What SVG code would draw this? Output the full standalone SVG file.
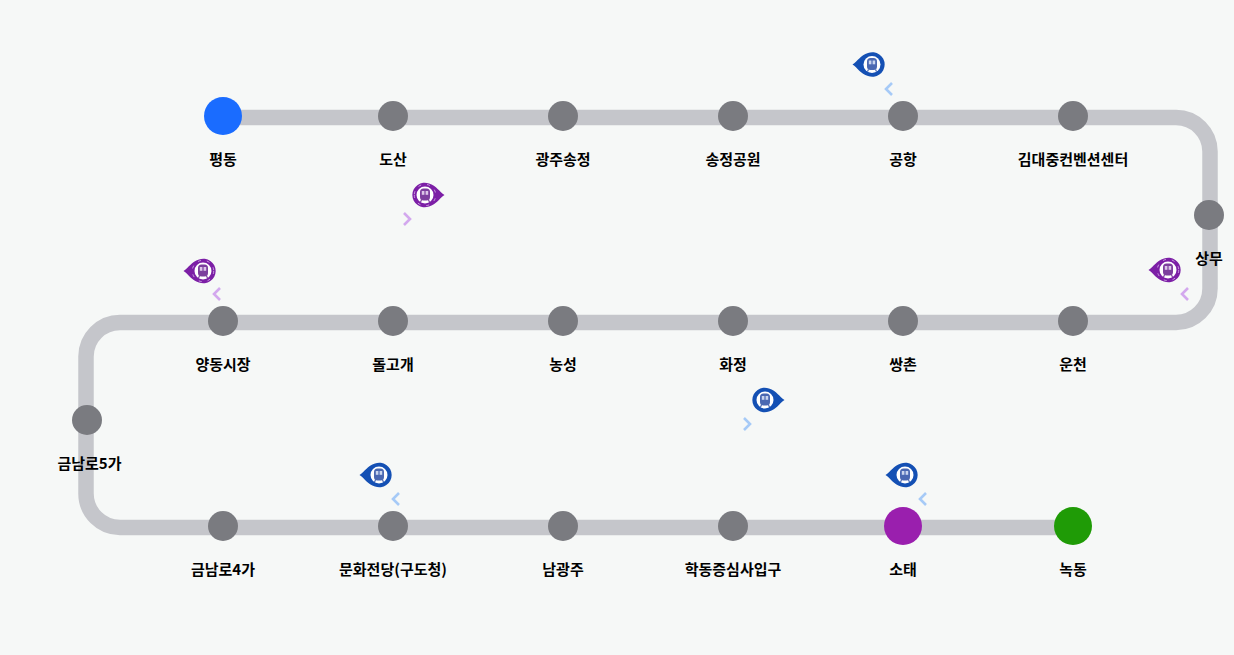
<svg xmlns="http://www.w3.org/2000/svg" width="1234" height="655" viewBox="0 0 1234 655">
<style>
.bg{fill:#f6f8f7}
.line{fill:none;stroke:#c5c6cb;stroke-width:15.5}
.st{fill:#7a7b80}
.t{font-family:"Noto Sans CJK KR","Noto Sans",sans-serif;font-size:15px;font-weight:700;fill:#000;text-anchor:middle}
.chB{fill:none;stroke:#a6caf7;stroke-width:2.6}
.chP{fill:none;stroke:#d3a8ee;stroke-width:2.6}
</style>
<defs>
<g id="trainB">
<path d="M-20.500 0C-15.500-3-12.500-9.500-5-11.500A12.300 12.300 0 1 1-5 11.500C-12.500 9.500-15.500 3-20.500 0Z" fill="#1450b4"/>
<circle cx="-1" cy="0" r="8.500" fill="#fff"/>
<rect x="-6" y="-6.500" width="10" height="12" rx="3.500" fill="#4a68b2"/>
<rect x="-4.200" y="-4" width="2.600" height="3.800" fill="#c9d5ee"/>
<rect x="-0.400" y="-4" width="2.600" height="3.800" fill="#c9d5ee"/>
<path d="M-4.500 5L-5.500 7M2.500 5L3.500 7" stroke="#4a68b2" stroke-width="1.200"/>
</g>
<g id="trainP">
<path d="M-20.500 0C-15.500-3-12.500-9.500-5-11.500A12.300 12.300 0 1 1-5 11.500C-12.500 9.500-15.500 3-20.500 0Z" fill="#7c1fa6"/>
<circle cx="-1" cy="0" r="10.700" fill="none" stroke="#d9b8ea" stroke-width="0.800" stroke-dasharray="3 6"/>
<circle cx="-1" cy="0" r="8.500" fill="#fff"/>
<rect x="-6" y="-6.500" width="10" height="12" rx="3.500" fill="#7d3f9e"/>
<rect x="-4.200" y="-4" width="2.600" height="3.800" fill="#dcc6e8"/>
<rect x="-0.400" y="-4" width="2.600" height="3.800" fill="#dcc6e8"/>
<path d="M-4.500 5L-5.500 7M2.500 5L3.500 7" stroke="#7d3f9e" stroke-width="1.200"/>
</g>
</defs>
<rect class="bg" width="1234" height="655"/>
<g id="connectors">
<path class="line" d="M223 117.500H1176A34 34 0 0 1 1210 151.500V288.500A34 34 0 0 1 1176 322.500H120A34 34 0 0 0 86 356.500V493.500A34 34 0 0 0 120 527.500H1073"/>
</g>
<g id="st-pyeongdong"><circle cx="223" cy="116" r="19" fill="#1a6cff"/><text class="t" x="223" y="165">평동</text></g>
<g id="st-dosan"><circle class="st" cx="393" cy="116" r="15"/><text class="t" x="393" y="165">도산</text></g>
<g id="st-gwangjusongjeong"><circle class="st" cx="563" cy="116" r="15"/><text class="t" x="563" y="165">광주송정</text></g>
<g id="st-songjeong"><circle class="st" cx="733" cy="116" r="15"/><text class="t" x="733" y="165">송정공원</text></g>
<g id="st-airport"><circle class="st" cx="903" cy="116" r="15"/><text class="t" x="903" y="165">공항</text></g>
<g id="st-kdj"><circle class="st" cx="1073" cy="116" r="15"/><text class="t" x="1073" y="165">김대중컨벤션센터</text></g>
<g id="st-sangmu"><circle class="st" cx="1209" cy="215" r="15"/><text class="t" x="1209" y="264">상무</text></g>
<g id="st-uncheon"><circle class="st" cx="1073" cy="321" r="15"/><text class="t" x="1073" y="370">운천</text></g>
<g id="st-ssangchon"><circle class="st" cx="903" cy="321" r="15"/><text class="t" x="903" y="370">쌍촌</text></g>
<g id="st-hwajeong"><circle class="st" cx="733" cy="321" r="15"/><text class="t" x="733" y="370">화정</text></g>
<g id="st-nongseong"><circle class="st" cx="563" cy="321" r="15"/><text class="t" x="563" y="370">농성</text></g>
<g id="st-dolgogae"><circle class="st" cx="393" cy="321" r="15"/><text class="t" x="393" y="370">돌고개</text></g>
<g id="st-yangdong"><circle class="st" cx="223" cy="321" r="15"/><text class="t" x="223" y="370">양동시장</text></g>
<g id="st-geumnam5"><circle class="st" cx="87" cy="420" r="15"/><text class="t" x="89.500" y="469">금남로5가</text></g>
<g id="st-geumnam4"><circle class="st" cx="223" cy="526" r="15"/><text class="t" x="223" y="575">금남로4가</text></g>
<g id="st-culture"><circle class="st" cx="393" cy="526" r="15"/><text class="t" x="393" y="575">문화전당(구도청)</text></g>
<g id="st-namgwangju"><circle class="st" cx="563" cy="526" r="15"/><text class="t" x="563" y="575">남광주</text></g>
<g id="st-hakdong"><circle class="st" cx="733" cy="526" r="15"/><text class="t" x="733" y="575">학동증심사입구</text></g>
<g id="st-sotae"><circle cx="903" cy="526" r="19" fill="#9a1fae"/><text class="t" x="903" y="575">소태</text></g>
<g id="st-nokdong"><circle cx="1073" cy="526" r="19" fill="#1f9b06"/><text class="t" x="1073" y="575">녹동</text></g>
<g id="train-1"><use href="#trainB" x="873" y="64.500"/><path class="chB" d="M892 83L886 89L892 95"/></g>
<g id="train-2"><use href="#trainP" transform="translate(424 195) scale(-1 1)"/><path class="chP" d="M404 213L410 219L404 225"/></g>
<g id="train-3"><use href="#trainP" x="1169" y="270"/><path class="chP" d="M1188 288L1182 294L1188 300"/></g>
<g id="train-4"><use href="#trainP" x="204" y="271"/><path class="chP" d="M220 288L214 294L220 300"/></g>
<g id="train-5"><use href="#trainB" transform="translate(764 400) scale(-1 1)"/><path class="chB" d="M744 418L750 424L744 430"/></g>
<g id="train-6"><use href="#trainB" x="380" y="475"/><path class="chB" d="M399 493L393 499L399 505"/></g>
<g id="train-7"><use href="#trainB" x="906" y="475"/><path class="chB" d="M926 493L920 499L926 505"/></g>
</svg>
